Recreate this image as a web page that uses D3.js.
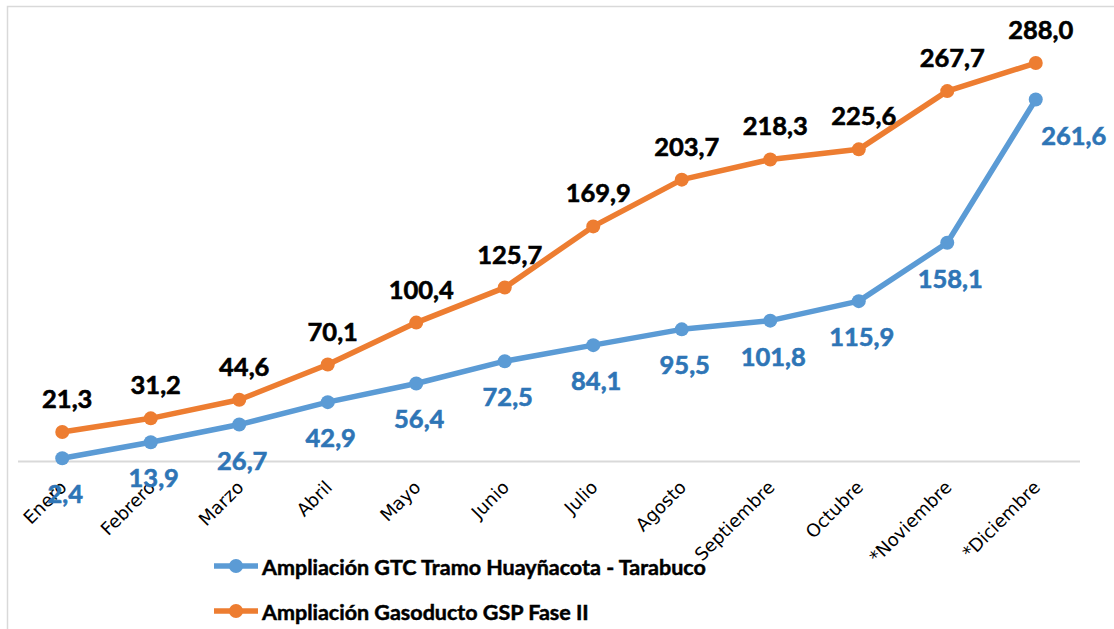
<!DOCTYPE html>
<html>
<head>
<meta charset="utf-8">
<script src="https://cdn.jsdelivr.net/npm/d3@7"></script>
<style>
  body { margin: 0; background: #fff; }
  svg { display: block; }
</style>
</head>
<body>
<svg id="chart"></svg>
<script>
// data
const months = ['Enero', 'Febrero', 'Marzo', 'Abril', 'Mayo', 'Junio', 'Julio', 'Agosto', 'Septiembre', 'Octubre', '*Noviembre', '*Diciembre']
const gtcValues = [2.4, 13.9, 26.7, 42.9, 56.4, 72.5, 84.1, 95.5, 101.8, 115.9, 158.1, 261.6]
const gspValues = [21.3, 31.2, 44.6, 70.1, 100.4, 125.7, 169.9, 203.7, 218.3, 225.6, 267.7, 288.0]
const seriesNames = ['Ampliación GTC Tramo Huayñacota - Tarabuco', 'Ampliación Gasoducto GSP Fase II']

const w = 1114
const h = 629

const svg = d3.select('#chart').attr('width', w).attr('height', h)

// chart area frame (only top and left edges visible)
svg.append('rect').attr('x', 7.5).attr('y', 6.5).attr('width', 1200).attr('height', 700)
    .attr('fill', 'none').attr('stroke', '#d9d9d9').attr('stroke-width', 1.5)

const x = d3.scalePoint().domain(months).range([18, 1080]).padding(0.5)
const y = d3.scaleLinear().domain([0, 300]).range([461.5, 46.4])

// category axis
const xAxis = svg.append('g').attr('transform', `translate(0,${y(0)})`)
    .call(d3.axisBottom(x).tickSize(0).tickPadding(0))
xAxis.select('.domain').attr('stroke', '#d9d9d9').attr('stroke-width', 2)
    .attr('d', `M18,0H1080`)
xAxis.selectAll('.tick text')
    .attr('transform', 'translate(5,27) rotate(-45)')
    .attr('dy', 0).attr('y', 0)
    .style('text-anchor', 'end')
    .style('font-family', '"DejaVu Sans", sans-serif')
    .style('font-size', '18px')
    .style('fill', '#000')

const series = [
    { name: seriesNames[0], values: gtcValues, color: '#5b9bd5', labelColor: '#2e75b6', dy: 45, dx: 3 },
    { name: seriesNames[1], values: gspValues, color: '#ed7d31', labelColor: '#000', dy: -24, dx: 5 }
]

const line = d3.line().x((d, i) => x(months[i])).y(d => y(d))

series.forEach(s => {
    svg.append('path').datum(s.values).attr('d', line)
        .attr('fill', 'none').attr('stroke', s.color).attr('stroke-width', 5.5)
        .attr('stroke-linejoin', 'round')

    svg.selectAll(null).data(s.values).join('circle')
        .attr('cx', (d, i) => x(months[i])).attr('cy', d => y(d)).attr('r', 7)
        .attr('fill', s.color)

    svg.selectAll(null).data(s.values).join('text')
        .attr('x', (d, i) => x(months[i]) + s.dx + (s === series[0] && i === months.length - 1 ? 35 : 0))
        .attr('y', d => y(d) + s.dy)
        .text(d => d3.format('.1f')(d).replace('.', ','))
        .style('text-anchor', 'middle')
        .style('font-family', 'Lato, sans-serif')
        .style('font-weight', 'bold')
        .style('font-size', '25.5px')
        .style('stroke', s.labelColor).style('stroke-width', 0.6)
        .style('fill', s.labelColor)
})

// legend
const legend = svg.append('g')
series.forEach((s, i) => {
    const ly = 566 + i * 45
    legend.append('line').attr('x1', 214).attr('x2', 258).attr('y1', ly).attr('y2', ly)
        .attr('stroke', s.color).attr('stroke-width', 5.5)
    legend.append('circle').attr('cx', 236).attr('cy', ly).attr('r', 7).attr('fill', s.color)
    legend.append('text').attr('x', 262).attr('y', ly + 9).text(s.name)
        .style('font-family', 'Lato, sans-serif').style('font-weight', 'bold')
        .style('font-size', '21.5px').style('stroke', '#000').style('stroke-width', 0.5)
        .style('fill', '#000')
})
</script>
</body>
</html>
